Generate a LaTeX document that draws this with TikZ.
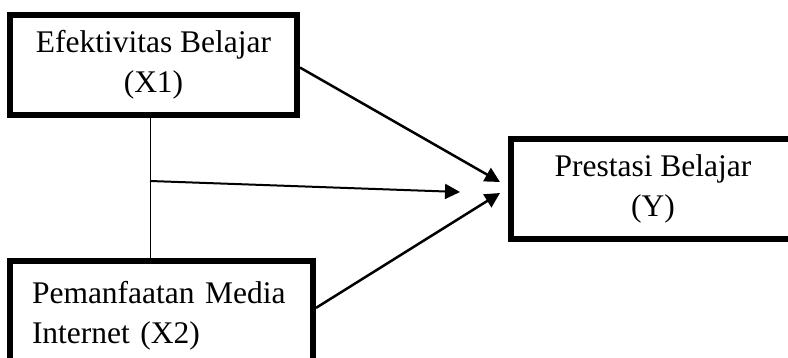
\documentclass[tikz,border=0pt]{standalone}
\usepackage{fontspec}
\setmainfont{Liberation Serif}
\usetikzlibrary{arrows.meta}

\begin{document}
\begin{tikzpicture}[x=1pt, y=-1pt,
                      varbox/.style={draw, line width=6pt, inner sep=0pt,
                                     font=\fontsize{31.5}{40}\selectfont},
                      arr/.style={line width=2.5pt, -{Triangle[length=15pt, width=15pt]}}]
                      \useasboundingbox (0, 0) rectangle (788, 358);
                      \clip (0, 0) rectangle (788, 358);

                      \node[varbox, minimum width=287pt, minimum height=100pt, align=center] (x1) at (153.5, 65) {Efektivitas Belajar\\(X1)};
                      \node[varbox, text width=259pt, inner xsep=22pt, minimum height=110pt, align=left] (x2) at (161.5, 316) {Pemanfaatan Media\\Internet (X2)};
                      \node[varbox, minimum width=284pt, minimum height=100pt, align=center] (y) at (653, 189) {Prestasi Belajar\\(Y)};

                      \coordinate (j) at (150, 181);
                      \coordinate (t1) at (500, 182);
                      \coordinate (t2) at (460, 192);
                      \coordinate (t3) at (500, 193);

                      \draw[line width=1pt] (x1.south -| j) -- (x2.north -| j);
                      \draw[arr] (x1.-1) -- (t1);
                      \draw[arr, line width=2pt] (j) -- (t2);
                      \draw[arr] (x2.3) -- (t3);
                  \end{tikzpicture}
\end{document}
